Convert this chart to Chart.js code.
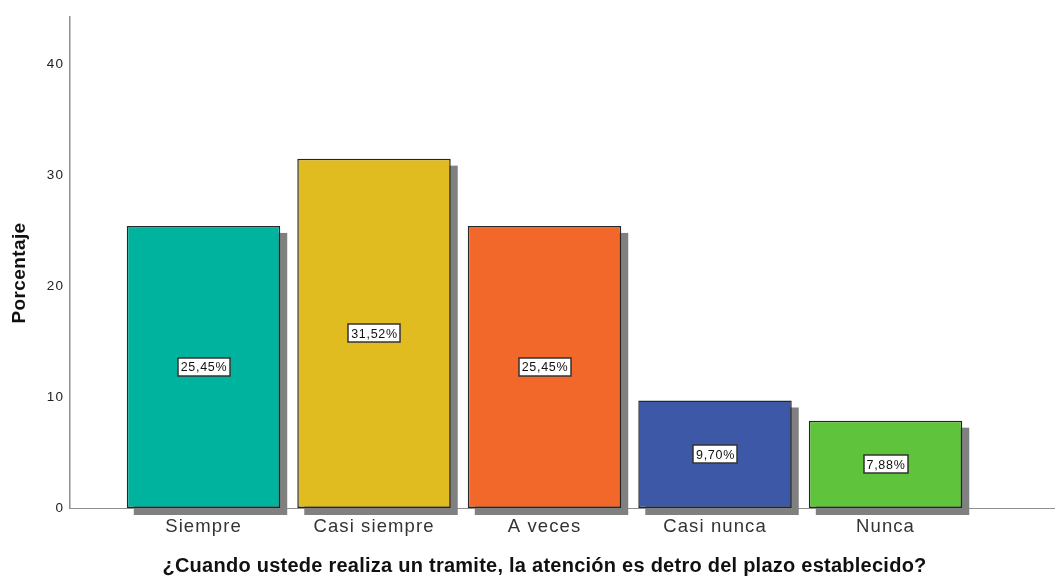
<!DOCTYPE html>
<html lang="es">
<head>
<meta charset="UTF-8">
<title>Atención dentro del plazo</title>
<script src="https://cdn.jsdelivr.net/npm/chart.js"></script>
<style>
    html, body { margin: 0; padding: 0; background: #fff; }
    #wrap { width: 1055px; height: 578px; position: relative; }
</style>
</head>
<body>
<div id="wrap"><canvas id="chart"></canvas></div>
<script>
    // Data
    const categories = ['Siempre', 'Casi siempre', 'A veces', 'Casi nunca', 'Nunca'];
    const percentages = [25.45, 31.52, 25.45, 9.70, 7.88];
    const barColors = ['#00b39f', '#e1bc21', '#f2682a', '#3d58a7', '#5fc33b'];
    const yTicks = [0, 10, 20, 30, 40];
    const xAxisTitle = '¿Cuando ustede realiza un tramite, la atención es detro del plazo establecido?';
    const yAxisTitle = 'Porcentaje';

    const FONT = "'Liberation Sans', Arial, sans-serif";

    // wide SPSS-like lettering for the tick labels
    const spacing = {
        id: 'spacing',
        beforeDraw(chart) { chart.ctx.letterSpacing = '1.1px'; }
    };

    // gray drop shadow behind each bar
    const barShadow = {
        id: 'barShadow',
        beforeDatasetsDraw(chart) {
            const ctx = chart.ctx;
            ctx.save();
            ctx.fillStyle = '#808080';
            ctx.filter = 'blur(0.7px)';
            chart.getDatasetMeta(0).data.forEach(bar => {
                const w = bar.width;
                ctx.fillRect(bar.x - w / 2 + 7, bar.y + 7, w, bar.base - bar.y);
            });
            ctx.restore();
        }
    };

    // boxed percentage label in the middle of each bar
    const valueBoxes = {
        id: 'valueBoxes',
        afterDatasetsDraw(chart) {
            const ctx = chart.ctx;
            ctx.save();
            ctx.letterSpacing = '0.7px';
            ctx.font = '12.5px ' + FONT;
            ctx.textAlign = 'center';
            ctx.textBaseline = 'middle';
            chart.getDatasetMeta(0).data.forEach((bar, i) => {
                const txt = percentages[i].toFixed(2).replace('.', ',') + '%';
                const cy = (bar.y + bar.base) / 2;
                const tw = ctx.measureText(txt).width;
                const bw = Math.round(tw + 5), bh = 18;
                const bx = Math.round(bar.x - bw / 2), by = Math.round(cy - bh / 2);
                ctx.fillStyle = '#ffffff';
                ctx.fillRect(bx, by, bw, bh);
                ctx.strokeStyle = '#333';
                ctx.lineWidth = 1.5;
                ctx.strokeRect(bx, by, bw, bh);
                ctx.fillStyle = '#111';
                ctx.fillText(txt, bar.x + 0.5, cy + 1);
            });
            ctx.restore();
        }
    };

    // axis titles: x centred under the bars, y rotated on the left
    const axisTitles = {
        id: 'axisTitles',
        afterDraw(chart) {
            const ctx = chart.ctx;
            const xs = chart.scales.x;
            const cx = (xs.getPixelForValue(1) + xs.getPixelForValue(categories.length)) / 2;
            ctx.save();
            ctx.fillStyle = '#111';
            ctx.textAlign = 'center';
            ctx.textBaseline = 'middle';
            ctx.letterSpacing = '0.25px';
            ctx.font = 'bold 20px ' + FONT;
            ctx.fillText(xAxisTitle, cx, 566);
            ctx.letterSpacing = '0.4px';
            ctx.font = 'bold 19px ' + FONT;
            ctx.translate(20, 273);
            ctx.rotate(-Math.PI / 2);
            ctx.fillText(yAxisTitle, 0, 0);
            ctx.restore();
        }
    };

    new Chart(document.getElementById('chart'), {
        type: 'bar',
        data: {
            datasets: [{
                data: percentages.map((v, i) => ({ x: i + 1, y: v })),
                backgroundColor: barColors,
                borderColor: '#262626',
                borderWidth: 1.5,
                borderSkipped: false,
                categoryPercentage: 1,
                barPercentage: 0.9,
                clip: false
            }]
        },
        plugins: [spacing, barShadow, valueBoxes, axisTitles],
        options: {
            responsive: true,
            maintainAspectRatio: false,
            animation: false,
            layout: { padding: { top: 17, right: 0, left: 0, bottom: 0 } },
            plugins: {
                legend: { display: false },
                tooltip: { enabled: false }
            },
            scales: {
                x: {
                    type: 'linear',
                    offset: false,
                    min: 0.217,
                    max: 5.994,
                    grid: { display: false, drawTicks: false },
                    border: { display: true, color: '#8f8f8f', width: 1 },
                    afterBuildTicks: s => { s.ticks = categories.map((_, i) => ({ value: i + 1 })); },
                    afterFit: s => { s.height = 70; },
                    ticks: {
                        autoSkip: false,
                        maxRotation: 0,
                        padding: 8,
                        color: '#333',
                        font: { family: FONT, size: 18.5 },
                        callback: v => categories[v - 1] || ''
                    }
                },
                y: {
                    min: 0,
                    max: 44.3,
                    grid: { display: false, drawTicks: false },
                    border: { display: true, color: '#8f8f8f', width: 1.5 },
                    afterBuildTicks: s => { s.ticks = yTicks.map(v => ({ value: v })); },
                    afterFit: s => { s.width = 70; },
                    ticks: {
                        padding: 6,
                        color: '#222',
                        font: { family: FONT, size: 13.5 }
                    }
                }
            }
        }
    });
</script>
</body>
</html>
